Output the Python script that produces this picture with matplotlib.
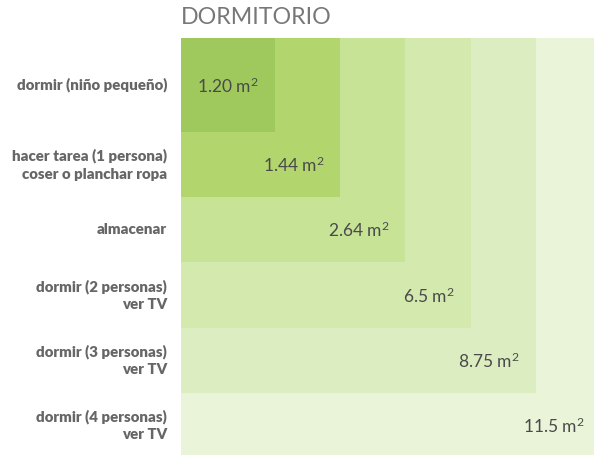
import matplotlib.pyplot as plt
from matplotlib.patches import Rectangle

# data
actividades = [
    "dormir (niño pequeño)",
    "hacer tarea (1 persona)\ncoser o planchar ropa",
    "almacenar",
    "dormir (2 personas)\nver TV",
    "dormir (3 personas)\nver TV",
    "dormir (4 personas)\nver TV",
]
areas = [1.20, 1.44, 2.64, 6.5, 8.75, 11.5]
area_labels = ["1.20", "1.44", "2.64", "6.5", "8.75", "11.5"]
colores = ["#9fc95c", "#b2d66d", "#c7e395", "#d3e9ae", "#ddedc2", "#e9f4d9"]

plt.rcParams['font.family'] = ['Lato', 'DejaVu Sans']
plt.rcParams['mathtext.fontset'] = 'custom'
plt.rcParams['mathtext.rm'] = 'Lato'
plt.rcParams['mathtext.it'] = 'Lato'

fig = plt.figure(figsize=(5.94, 4.55), dpi=100)
ax = fig.add_axes([0, 0, 1, 1])
ax.set_xlim(0, 594)
ax.set_ylim(455, 0)
ax.axis('off')

# layout (pixels)
x0, y0 = 181, 38
first = 94
step = 65.2

# draw largest first so smaller ones stay on top
for i in reversed(range(len(areas))):
    size = first + i * step
    ax.add_patch(Rectangle((x0, y0), size, size, facecolor=colores[i],
                           edgecolor='none'))

for i, (act, lab) in enumerate(zip(actividades, area_labels)):
    top = y0 if i == 0 else y0 + first + (i - 1) * step
    bottom = y0 + first + i * step
    yc = (top + bottom) / 2
    right = x0 + first + i * step
    ax.text(right - 16, yc + 1, lab + r" $\mathregular{m^2}$", ha='right',
            va='center', fontsize=12.5, color='#4a4a4a')
    ax.text(167, yc, act, ha='right', va='center', fontsize=10.8,
            fontweight='heavy', color='#666666', linespacing=1.4)

ax.text(x0, 18, "DORMITORIO", ha='left', va='center', fontsize=16.7,
        color='#777777')

fig.savefig("out.png", dpi=100)
